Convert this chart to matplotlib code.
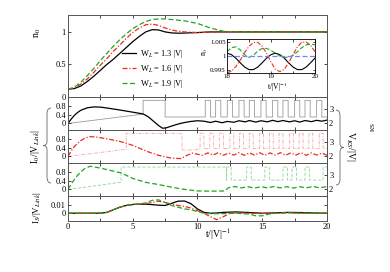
import numpy as np
import matplotlib
matplotlib.use("Agg")
import matplotlib.pyplot as plt
from matplotlib.path import Path
from matplotlib.patches import PathPatch

plt.rcParams['font.family'] = ['Liberation Serif', 'DejaVu Serif']
plt.rcParams['mathtext.fontset'] = 'stix'

# ---- top panel: n_0(t)
t_top = [0, 0.5, 1, 1.5, 2, 2.5, 3, 3.5, 4, 4.5, 5, 5.5, 6, 6.5, 7, 7.5, 8, 8.5, 9,
         10, 11, 12, 13, 14, 15, 16, 17, 18, 19, 20]
n0_13 = [0.12, 0.13, 0.17, 0.24, 0.32, 0.41, 0.50, 0.58, 0.67, 0.76, 0.85, 0.93, 1.0, 1.035,
         1.03, 1.0, 0.985, 0.98, 0.983, 0.99, 1.0, 1.0, 1.0, 1.0, 1.0, 1.0, 1.0, 1.0, 1.0, 1.0]
n0_16 = [0.12, 0.14, 0.20, 0.28, 0.38, 0.49, 0.59, 0.70, 0.80, 0.90, 0.99, 1.06, 1.11, 1.12,
         1.10, 1.06, 1.03, 1.01, 1.0, 0.99, 0.995, 1.0, 1.0, 1.0, 1.0, 1.0, 1.0, 1.0, 1.0, 1.0]
n0_19 = [0.12, 0.15, 0.23, 0.33, 0.44, 0.56, 0.67, 0.78, 0.88, 0.97, 1.05, 1.11, 1.16, 1.19,
         1.20, 1.20, 1.19, 1.18, 1.17, 1.13, 1.06, 1.01, 1.0, 1.0, 1.0, 1.0, 1.0, 1.0, 1.0, 1.0]
labels = ['W$_L$ = 1.3 |V|', 'W$_L$ = 1.6 |V|', 'W$_L$ = 1.9 |V|']

# ---- inset (t = 18..20)
t_in = [18.0, 18.1, 18.2, 18.3, 18.4, 18.5, 18.6, 18.7, 18.8, 18.9, 19.0,
        19.1, 19.2, 19.3, 19.4, 19.5, 19.6, 19.7, 19.8, 19.9, 20.0]
in_13 = [1.0010, 1.0005, 0.99925, 0.99757, 0.99604, 0.99512, 0.99512, 0.99604, 0.99757, 0.99925, 1.0005,
         1.0010, 1.0005, 0.99925, 0.99757, 0.99604, 0.99512, 0.99512, 0.99604, 0.99757, 0.99925]
in_16 = [0.9940, 0.9945, 0.9962, 0.9985, 1.0012, 1.0035, 1.0048, 1.0049, 1.0035, 1.0010, 0.9978,
         0.9952, 0.9944, 0.9952, 0.9975, 1.0005, 1.0033, 1.0049, 1.0050, 1.0038, 1.0015]
in_19 = [1.0015, 1.0030, 1.0033, 1.0022, 1.0005, 0.9995, 1.0002, 1.0018, 1.0027, 1.0027, 1.0020,
         1.0010, 1.0000, 0.9995, 0.9996, 1.0002, 1.0015, 1.0030, 1.0040, 1.0043, 1.0040]

# ---- middle panels: I_0 (left axis)
t_i0_13 = [0, 0.25, 0.5, 0.75, 1, 1.5, 2, 2.5, 3, 4, 5, 5.8, 6.2, 6.6, 7.0, 7.3, 7.6, 8.0, 8.5, 9.0, 9.5, 10.0,
           10.5, 11.0, 11.4, 11.9, 12.3, 12.8, 13.2, 13.7, 14.0, 14.5, 14.9, 15.4, 15.8, 16.2, 16.6,
           17.1, 17.5, 17.9, 18.3, 18.8, 19.2, 19.6, 20.0]
i0_13 = [0, 0.2, 0.37, 0.5, 0.6, 0.71, 0.75, 0.74, 0.7, 0.61, 0.51, 0.43, 0.3, 0.1, -0.1, -0.22, -0.2, -0.12,
         -0.03, 0.04, 0.09, 0.12, 0.1, 0.04, 0.1, 0.03, 0.09, 0.05, 0.12, 0.07, 0.13, 0.06, 0.12, 0.07,
         0.14, 0.08, 0.13, 0.07, 0.12, 0.06, 0.13, 0.08, 0.14, 0.1, 0.15]
t_i0_16 = [0, 0.25, 0.5, 0.75, 1, 1.3, 1.7, 2.2, 3, 4, 4.5, 5, 5.8, 6.5, 7.0, 7.5, 8.0, 8.7, 9.2, 9.6, 10.0,
           10.4, 10.8, 11.2, 11.6, 12.0, 12.4, 12.8, 13.2, 13.6, 14.0, 14.4, 14.8, 15.2, 15.6, 16.0,
           16.4, 16.8, 17.2, 17.6, 18.0, 18.4, 18.8, 19.2, 19.6, 20.0]
i0_16 = [0, 0.25, 0.45, 0.6, 0.72, 0.83, 0.9, 0.88, 0.8, 0.68, 0.6, 0.5, 0.3, 0.14, 0.05, -0.02, -0.08, -0.1,
         0.05, 0.15, 0.1, 0.05, 0.16, 0.06, 0.17, 0.05, 0.15, 0.06, 0.17, 0.05, 0.16, 0.06, 0.17, 0.05,
         0.16, 0.06, 0.17, 0.05, 0.16, 0.06, 0.17, 0.05, 0.16, 0.06, 0.15, 0.05]
t_i0_19 = [0, 0.25, 0.5, 0.75, 1, 1.3, 1.7, 2.5, 3.3, 4.1, 5, 6, 7, 8, 9, 10, 11, 12.1, 12.4, 12.9,
           13.4, 13.9, 14.4, 14.9, 15.4, 15.9, 16.4, 16.9, 17.4, 17.9, 18.4, 18.9, 19.4, 20.0]
i0_19 = [0, 0.25, 0.45, 0.65, 0.8, 0.95, 1.05, 0.97, 0.86, 0.75, 0.5, 0.32, 0.22, 0.1, 0.0, -0.07,
         -0.08, -0.07, 0.08, 0.13, 0.07, 0.12, 0.06, 0.12, 0.07, 0.13, 0.07, 0.12, 0.06, 0.12, 0.07,
         0.13, 0.08, 0.12]

# ---- middle panels: V_KS (right axis), switching times
ks_ramp_13 = ([0, 5.8], [2.0, 2.65])
ks_hold_13 = [(5.8, 7.5, 3.6), (7.5, 10.6, 2.45)]
ks_on_13 = [10.6, 11.4, 12.3, 13.2, 14.0, 14.9, 15.8, 16.6, 17.5, 18.3, 19.2]   # short highs
ks_ramp_16 = ([0, 4.5], [2.0, 2.5])
ks_hold_16 = [(4.5, 8.8, 3.6), (8.8, 9.8, 2.45)]
ks_dip_16 = [10.2, 10.95, 11.7, 12.5, 13.25, 14.0, 14.8, 15.55, 16.3, 17.1, 17.85, 18.6, 19.4]
ks_ramp_19 = ([0, 4.1], [2.0, 2.5])
ks_hold_19 = [(4.1, 12.25, 3.55)]
ks_dip_19 = [12.25, 13.8, 15.2, 16.6, 17.3, 18.3, 19.7]

# ---- bottom panel: I_S
t_bot = [0, 1, 2, 2.5, 3, 3.5, 4, 4.5, 5, 5.5, 6, 6.5, 7, 7.5, 8, 8.5, 9, 9.5, 10, 10.5, 11,
         11.5, 12, 12.5, 13, 14, 14.5, 15, 15.5, 16, 17, 18, 19, 20]
is_13 = [0, 0, 0, 0.0001, 0.001, 0.004, 0.007, 0.009, 0.0102, 0.0105, 0.0105, 0.01, 0.0093, 0.009,
         0.0115, 0.014, 0.0142, 0.011, 0.005, 0.001, 0.0, 0.0003, 0.001, 0.0013, 0.0015, 0.0008, 0.0004,
         0.0, 0.0002, 0.0005, 0.001, 0.0008, 0.0003, 0.0]
is_16 = [0, 0, 0, 0.0001, 0.001, 0.004, 0.007, 0.009, 0.0102, 0.0105, 0.011, 0.0125, 0.014, 0.0125,
         0.0105, 0.009, 0.008, 0.006, 0.003, 0.0, -0.004, -0.0075, -0.004, 0.0, 0.0005, 0.0, -0.0002,
         -0.0003, 0.0, 0.0, 0.0005, 0.0, 0.0, 0.0]
is_19 = [0, 0, 0, 0.0001, 0.001, 0.004, 0.007, 0.009, 0.0102, 0.0108, 0.012, 0.015, 0.0155, 0.0125,
         0.009, 0.007, 0.005, 0.004, 0.002, 0.0, -0.0005, -0.0005, -0.0005, -0.0002, 0.0, -0.001,
         -0.003, -0.003, -0.001, 0.0, 0.0005, 0.0, 0.0, 0.0]

C_BLK, C_RED, C_GRN = 'black', '#ee2a1e', '#1fa51f'
T_BLK, T_RED, T_GRN = '#9a9a9a', '#f5a49c', '#92d692'
LS_BLK, LS_RED, LS_GRN = '-', (0, (4, 1.5, 1, 1.5)), (0, (4, 2))

W, H = 390.0, 272.0


def fbox(x0, y0, x1, y1):
    return [x0 / W, 1 - y1 / H, (x1 - x0) / W, (y1 - y0) / H]


def steps(ramp, holds, marks, width, lo, hi, t_end=20.0):
    t = list(ramp[0])
    v = list(ramp[1])
    for a, b, lev in holds:
        t += [a, b]
        v += [lev, lev]
    base = hi if lo > hi else lo
    peak = lo if lo > hi else hi
    for m in marks:
        t += [m, m, m + width, m + width]
        v += [base, peak, peak, base]
    t.append(t_end)
    v.append(base)
    return t, v


def style(ax, xlabels=False):
    ax.set_xlim(0, 20)
    ax.set_xticks([0, 5, 10, 15, 20])
    ax.set_xticks([2.5, 7.5, 12.5, 17.5], minor=True)
    ax.tick_params(which='both', direction='in', top=True, labelsize=6, length=2.2,
                   width=0.5, pad=1.5, labelbottom=xlabels)
    for s in ax.spines.values():
        s.set_color('#555555')
        s.set_linewidth(0.7)


fig = plt.figure(figsize=(3.9, 2.72), dpi=100)

# top panel
ax0 = fig.add_axes(fbox(68, 15, 327, 97))
style(ax0)
ax0.plot(t_top, n0_13, color=C_BLK, ls=LS_BLK, lw=0.9, label=labels[0])
ax0.plot(t_top, n0_16, color=C_RED, ls=LS_RED, lw=0.9, label=labels[1])
ax0.plot(t_top, n0_19, color=C_GRN, ls=LS_GRN, lw=0.9, label=labels[2])
ax0.set_ylim(0, 1.26)
ax0.set_yticks([0, 0.5, 1])
ax0.set_yticklabels(['0', '0.5', '1'])
ax0.tick_params(axis='y', right=True)
ax0.legend(loc='lower left', bbox_to_anchor=(0.19, 0.03), frameon=False, fontsize=6,
           handlelength=1.6, labelspacing=0.35, handletextpad=0.5, borderpad=0.1)
fig.text(38 / W, 1 - 33 / H, 'n$_0$', rotation=90, fontsize=7, ha='center', va='center')

# inset
axi = fig.add_axes(fbox(227, 39, 315, 73))
axi.plot(t_in, in_13, color=C_BLK, ls=LS_BLK, lw=0.8)
axi.plot(t_in, in_16, color=C_RED, ls=LS_RED, lw=0.8)
axi.plot(t_in, in_19, color=C_GRN, ls=LS_GRN, lw=0.8)
axi.axhline(1.0, color='#6f86ff', ls=(0, (4, 2)), lw=0.9)
axi.set_xlim(18, 20)
axi.set_ylim(0.9939, 1.0061)
axi.set_xticks([18, 19, 20])
axi.set_xticks([18.5, 19.5], minor=True)
axi.set_yticks([0.995, 1.0, 1.005])
axi.set_yticklabels(['0.995', '1', '1.005'])
axi.tick_params(which='both', direction='in', top=True, right=True, labelsize=5,
                length=1.8, width=0.5, pad=1)
for s in axi.spines.values():
    s.set_linewidth(0.6)
fig.text(205 / W, 1 - 52 / H, 'n$_0$', rotation=90, fontsize=5.5, ha='center', va='center')
fig.text(277 / W, 1 - 87 / H, 't/|V|$^{-1}$', fontsize=5.5, ha='center', va='center')

# middle panels
mids = [
    (97, 130, t_i0_13, i0_13, C_BLK, LS_BLK, T_BLK,
     steps(ks_ramp_13, ks_hold_13, ks_on_13, 0.4, 2.45, 3.6)),
    (130, 163, t_i0_16, i0_16, C_RED, LS_RED, T_RED,
     steps(ks_ramp_16, ks_hold_16, ks_dip_16, 0.3, 3.6, 2.55)),
    (163, 196, t_i0_19, i0_19, C_GRN, LS_GRN, T_GRN,
     steps(ks_ramp_19, ks_hold_19, ks_dip_19, 0.35, 3.55, 2.65)),
]
for y0, y1, ti, vi, c, ls, tc, ks in mids:
    ax = fig.add_axes(fbox(68, y0, 327, y1))
    style(ax)
    axr = ax.twinx()
    axr.plot(ks[0], ks[1], color=tc, ls=ls, lw=0.6)
    ax.plot(ti, vi, color=c, ls=ls, lw=0.9)
    ax.set_zorder(axr.get_zorder() + 1)
    ax.patch.set_visible(False)
    ax.set_ylim(-0.3, 1.2)
    ax.set_yticks([0, 0.4, 0.8])
    ax.set_yticklabels(['0', '0.4', '0.8'])
    axr.set_ylim(1.55, 3.83)
    axr.set_yticks([2, 3])
    axr.tick_params(direction='in', labelsize=6, length=2.2, width=0.5, pad=1.5)
    for s in axr.spines.values():
        s.set_color('#555555')
        s.set_linewidth(0.7)

# bottom panel
axb = fig.add_axes(fbox(68, 196, 327, 221))
style(axb, xlabels=True)
axb.plot(t_bot, is_13, color=C_BLK, ls=LS_BLK, lw=0.9)
axb.plot(t_bot, is_16, color=C_RED, ls=LS_RED, lw=0.9)
axb.plot(t_bot, is_19, color=C_GRN, ls=LS_GRN, lw=0.9)
axb.set_ylim(-0.009, 0.02)
axb.set_yticks([0, 0.01])
axb.set_yticklabels(['0', '0.01'])
axb.tick_params(axis='y', right=True)
fig.text(218 / W, 1 - 234 / H, 't/|V|$^{-1}$', fontsize=7, ha='center', va='center')
fig.text(37 / W, 1 - 208 / H, 'I$_S$/|V$_{Link}$|', rotation=90, fontsize=6.5,
         ha='center', va='center')

# braces and grouped labels


def brace(xt, xc, ya, yb):
    ym = (ya + yb) / 2.0
    xm = (xt + xc) / 2.0
    pts = [(xt, ya), (xm, ya), (xm, ya + 6), (xm, ym - 4), (xm, ym), (xc, ym),
           (xm, ym), (xm, ym + 4), (xm, yb - 6), (xm, yb), (xt, yb)]
    codes = [Path.MOVETO, Path.CURVE3, Path.CURVE3, Path.LINETO, Path.CURVE3, Path.CURVE3,
             Path.CURVE3, Path.CURVE3, Path.LINETO, Path.CURVE3, Path.CURVE3]
    verts = [(x / W, 1 - y / H) for x, y in pts]
    fig.patches.append(PathPatch(Path(verts, codes), transform=fig.transFigure,
                                 fill=False, ec='#666666', lw=0.6))


brace(51, 43, 108, 183)
brace(336, 344, 110, 185)
fig.text(35 / W, 1 - 146 / H, 'I$_0$/|V$_{Link}$|', rotation=90, fontsize=7,
         ha='center', va='center')
fig.text(351 / W, 1 - 146 / H, 'V$_{KS}$/|V|', rotation=270, fontsize=7,
         ha='center', va='center')
fig.text(373 / W, 1 - 127 / H, 'KS', rotation=90, fontsize=5, ha='center', va='center')

fig.savefig('out.png', dpi=100)
